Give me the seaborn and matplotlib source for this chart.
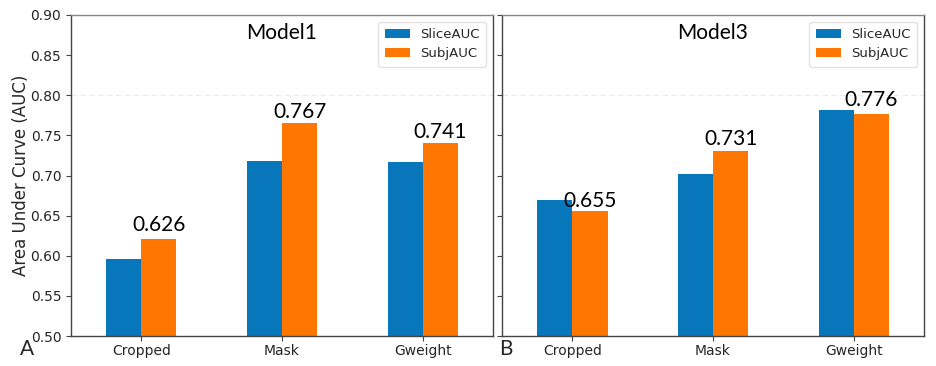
import matplotlib
matplotlib.use("Agg")
import matplotlib.pyplot as plt
import seaborn as sns
import pandas as pd

categories = ["Cropped", "Mask", "Gweight"]
metrics = ["SliceAUC", "SubjAUC"]
model1_slice = [0.596, 0.718, 0.717]
model1_subj = [0.621, 0.766, 0.741]
model1_labels = ["0.626", "0.767", "0.741"]
model1_label_y = [0.626, 0.767, 0.742]
model3_slice = [0.669, 0.702, 0.782]
model3_subj = [0.656, 0.731, 0.777]
model3_labels = ["0.655", "0.731", "0.776"]
model3_label_y = [0.656, 0.733, 0.782]
titles = ["Model1", "Model3"]
panel_tags = ["A", "B"]
yticks = [0.50, 0.55, 0.60, 0.65, 0.70, 0.75, 0.80, 0.85, 0.90]

sns.set_style("white")
plt.rcParams['font.family'] = ['DejaVu Sans']
big_font = ['Lato', 'DejaVu Sans']

palette = {"SliceAUC": "#0776BA", "SubjAUC": "#FF7600"}

fig = plt.figure(figsize=(9.36, 3.66), dpi=100)
ax1 = fig.add_axes([71/936, 30/366, 422/936, 321/366])
ax2 = fig.add_axes([502/936, 30/366, 422/936, 321/366])

panels = [
    (ax1, model1_slice, model1_subj, model1_labels, model1_label_y),
    (ax2, model3_slice, model3_subj, model3_labels, model3_label_y),
]

for i, (ax, sl, sj, labs, laby) in enumerate(panels):
    df = pd.DataFrame({
        "cat": categories * 2,
        "metric": [metrics[0]] * 3 + [metrics[1]] * 3,
        "val": sl + sj,
    })
    sns.barplot(data=df, x="cat", y="val", hue="metric", order=categories,
                hue_order=metrics, palette=palette, width=0.5, ax=ax,
                saturation=1, edgecolor="none", linewidth=0)
    ax.set_ylim(0.5, 0.9)
    ax.set_xlim(-0.5, 2.5)
    ax.set_yticks(yticks)
    ax.axhline(0.8, color="#ebebeb", lw=0.8, ls=(0, (5, 3)), zorder=0)
    ax.set_xlabel("")
    for sp in ax.spines.values():
        sp.set_visible(True)
        sp.set_color("#444444")
        sp.set_linewidth(1.0)
    ax.spines["top"].set_color("#888888")
    ax.tick_params(axis="both", which="both", direction="out", length=3.5,
                   width=0.8, color="#444444", labelsize=10, left=True, bottom=True)
    ax.tick_params(axis="x", pad=2.5)
    for j, (t, y) in enumerate(zip(labs, laby)):
        ax.text(j + 0.125, y, t, ha="center", va="bottom", fontsize=15,
                family=big_font, color="black")
    ax.text(0.5, 0.944, titles[i], transform=ax.transAxes, ha="center",
            va="center", fontsize=15, family=big_font, color="black")
    leg = ax.legend(loc="upper right", fontsize=9.5, frameon=True,
                    handlelength=1.9, borderpad=0.5, labelspacing=0.45,
                    handletextpad=0.8, fancybox=True, edgecolor="#dddddd",
                    borderaxespad=0.5)
    leg.set_title(None)

ax1.set_ylabel("Area Under Curve (AUC)", fontsize=12)
ax1.yaxis.set_label_coords(-0.097, 0.5)
ax2.set_ylabel("")
ax2.set_yticklabels([])

fig.text(20/936, 1 - 355/366, "A", fontsize=15, family=big_font, va="baseline", ha="left")
fig.text(499/936, 1 - 355/366, "B", fontsize=15, family=big_font, va="baseline", ha="left")

fig.savefig("out.png", dpi=100)
